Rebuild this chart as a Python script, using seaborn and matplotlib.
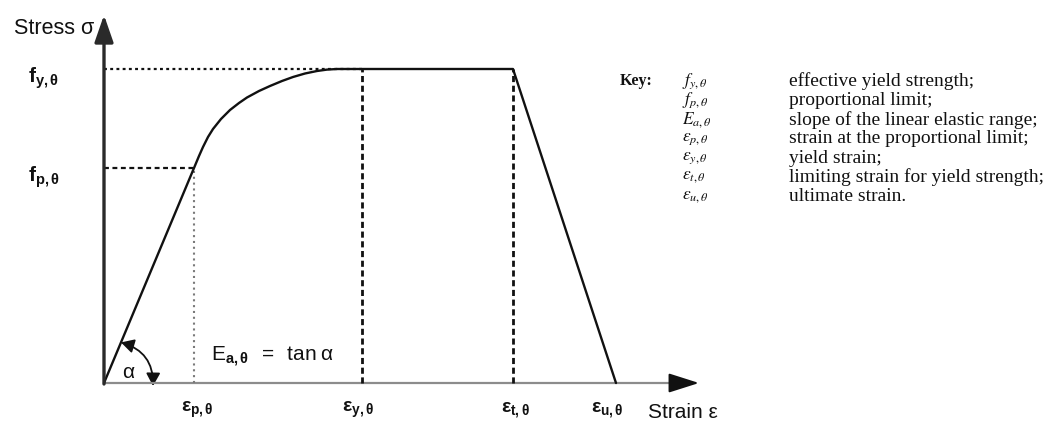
import numpy as np
import matplotlib
matplotlib.use("Agg")
import matplotlib.pyplot as plt
from matplotlib.patches import FancyArrowPatch
import seaborn as sns

# ---- data (diagram units: strain / stress) ----
strain = [0, 90, 95, 99, 104, 109, 117, 126, 135, 143, 155, 166, 178, 189, 201,
          213, 223, 233, 258, 409, 512]
stress = [0, 215, 227, 236, 246, 254, 264, 273, 280, 285.5, 292, 297, 302, 306,
          309.5, 312, 313.4, 314, 314, 314, 0]
eps_p, eps_y, eps_t, eps_u = 90, 258, 409, 512
f_p, f_y = 215, 314

x_tick_labels = [r"$\mathbf{ε}_{\mathbf{p,θ}}$", r"$\mathbf{ε}_{\mathbf{y,θ}}$",
                 r"$\mathbf{ε}_{\mathbf{t,θ}}$", r"$\mathbf{ε}_{\mathbf{u,θ}}$"]
y_tick_labels = [r"$\mathbf{f}_{\mathbf{p,θ}}$", r"$\mathbf{f}_{\mathbf{y,θ}}$"]

key_symbols = [r"$f_{y,\theta}$", r"$f_{p,\theta}$", r"$E_{a,\theta}$",
               r"$\varepsilon_{p,\theta}$", r"$\varepsilon_{y,\theta}$",
               r"$\varepsilon_{t,\theta}$", r"$\varepsilon_{u,\theta}$"]
key_texts = ["effective yield strength;", "proportional limit;",
             "slope of the linear elastic range;", "strain at the proportional limit;",
             "yield strain;", "limiting strain for yield strength;", "ultimate strain."]

# ---- style ----
sns.set_theme(style="white")
plt.rcParams["font.family"] = ["Liberation Sans", "DejaVu Sans"]
plt.rcParams["mathtext.fontset"] = "custom"
plt.rcParams["mathtext.rm"] = "Liberation Sans"
plt.rcParams["mathtext.it"] = "Liberation Sans:italic"
plt.rcParams["mathtext.bf"] = "Liberation Sans:bold"

W, H = 1052, 422
X0, Y0 = 104, 383          # pixel position of origin
fig = plt.figure(figsize=(W / 100, H / 100), dpi=100)
ax = fig.add_axes([0, 0, 1, 1])
ax.set_xlim(-X0, W - X0)
ax.set_ylim(-(H - Y0), Y0)
ax.axis("off")

def P(px, py):
    return px - X0, Y0 - py

INK = "#111111"

# axes with arrows
x_end, y_end = 595, 368
ax.plot([0, x_end - 18], [0, 0], color="#8c8c8c", lw=1.6, solid_capstyle="butt")
ax.annotate("", xy=(x_end, 0), xytext=(x_end - 20, 0),
            arrowprops=dict(arrowstyle="-|>,head_length=0.85,head_width=0.27",
                            color="#111111", lw=1.5, mutation_scale=22, shrinkA=0, shrinkB=0))
ax.annotate("", xy=(0, y_end), xytext=(0, -1),
            arrowprops=dict(arrowstyle="-|>,head_length=0.75,head_width=0.26",
                            color="#2a2a2a", lw=2.4, mutation_scale=22, shrinkA=0, shrinkB=0))

# reference lines
ax.plot([0, eps_y], [f_y, f_y], color=INK, lw=1.6, ls=(0, (1.3, 1.5)))
ax.plot([0, eps_p], [f_p, f_p], color=INK, lw=1.6, ls=(0, (2.2, 1.6)))
ax.plot([eps_p, eps_p], [0, f_p], color="#7a7a7a", lw=1.5, ls=(0, (1.0, 1.8)))
ax.plot([eps_y, eps_y], [0, f_y], color=INK, lw=2.0, ls=(0, (2.2, 1.3)))
ax.plot([eps_t, eps_t], [0, f_y], color=INK, lw=2.0, ls=(0, (2.2, 1.3)))

# stress-strain curve
sns.lineplot(x=strain, y=stress, sort=False, estimator=None, color=INK, lw=1.7, ax=ax)

# alpha arc
ang = np.arctan2(f_p, eps_p)
r = 44
arc = FancyArrowPatch((r * np.cos(ang), r * np.sin(ang)), (r + 5, -3),
                      connectionstyle="arc3,rad=-0.38",
                      arrowstyle="<|-|>,head_length=0.55,head_width=0.3",
                      mutation_scale=14, color=INK, lw=1.3, shrinkA=0, shrinkB=0)
ax.add_patch(arc)
ax.text(*P(128, 372), "α", fontsize=15, color=INK, ha="center", va="center")

# axis texts
ax.text(*P(94, 28), "Stress σ", fontsize=15.5, color=INK, ha="right", va="center")
ax.text(*P(648, 412), "Strain ε", fontsize=15, color=INK, ha="left", va="center")
for lab, yv in zip(y_tick_labels, [f_p, f_y]):
    ax.text(-76, yv - 9, lab, fontsize=15, color=INK, ha="left", va="center",
            math_fontfamily="custom")
for lab, xv, off in zip(x_tick_labels, [eps_p, eps_y, eps_t, eps_u], [3, -4, 2, -9]):
    ax.text(xv + off, -27, lab, fontsize=14, color=INK, ha="center", va="center",
            math_fontfamily="custom")
ax.text(*P(211, 357), r"$\mathrm{E}_{\mathbf{a,θ}}\;\;=\;\;\mathrm{tan\;α}$", fontsize=15,
        color=INK, ha="left", va="center", math_fontfamily="custom")

# key
row0, dy = 81, 19.3
ax.text(*P(620, row0), "Key:", fontsize=11.5, fontweight="bold", color=INK,
        family="Liberation Serif", ha="left", va="center")
for i, (s, t) in enumerate(zip(key_symbols, key_texts)):
    yy = row0 + i * dy
    ax.text(*P(682, yy), s, fontsize=12.5, color=INK, ha="left", va="center",
            math_fontfamily="stix")
    ax.text(*P(789, yy), t, fontsize=14, color=INK, family="Liberation Serif",
            ha="left", va="center")

fig.savefig("out.png", dpi=100)
